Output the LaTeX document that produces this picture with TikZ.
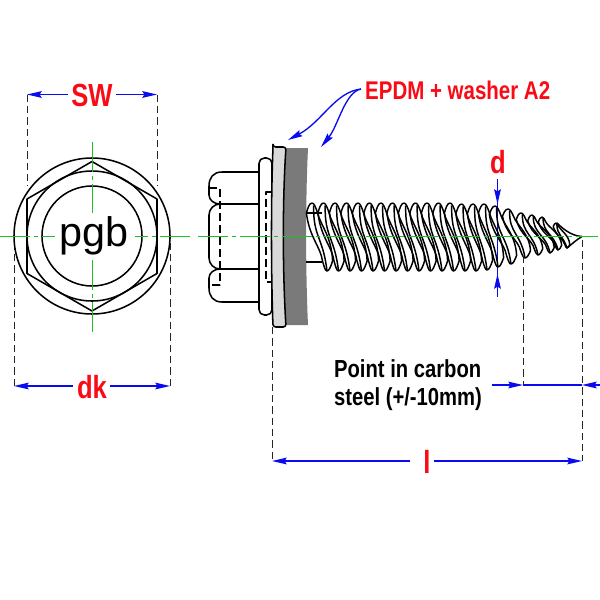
\documentclass[tikz,border=0pt]{standalone}
\usepackage{fontspec}
\setmainfont{Liberation Sans}
\usetikzlibrary{arrows.meta}
\definecolor{cl}{RGB}{30,190,40}
\definecolor{dimb}{RGB}{10,10,240}
\definecolor{redt}{RGB}{250,10,20}
\tikzset{
 x=0.75pt,y=-0.75pt,
 part/.style={draw=black,line width=1.15pt,line join=round},
 thr/.style={draw=black,line width=1.1pt,line join=round},
 centre/.style={draw=cl,line width=0.7pt,dash pattern=on 22.5pt off 3pt on 3pt off 3pt},
 ext/.style={draw=black!85,line width=0.75pt,dash pattern=on 5.5pt off 3pt},
 dim/.style={draw=dimb,line width=1pt},
 dimtip/.style={dim,-{Stealth[length=11pt,width=5pt,inset=1.5pt]}},
 redl/.style={inner sep=0pt,text=redt,font=\bfseries\fontsize{#1}{#1}\selectfont,xscale=0.8},
}
\begin{document}
\begin{tikzpicture}
\useasboundingbox (0,0) rectangle (600,600);
\coordinate (sl) at (27,94.5); \coordinate (sr) at (157,94.5);
\coordinate (dl) at (14,386); \coordinate (dr) at (170,386);
\coordinate (ll) at (272,461); \coordinate (lr) at (582,461);
\coordinate (pl) at (523,385); \coordinate (pr) at (582,385);
\coordinate (hub) at (361,89);
% front view
\draw[ext] (sl) -- (27,186) (sr) -- (157,186);
\draw[ext] (dl) -- (14,236) (dr) -- (170,236);
\draw[part] (92,236) circle[radius=78];
\draw[part] (92,236) circle[radius=65];
\draw[part] (92,236) circle[radius=50];
\draw[part] (92,161.5)--(157,199)--(157,273.5)--(92,311)--(27,273.5)--(27,199)--cycle;
\draw[centre] (0,236)--(55,236);
\draw[centre] (190,236)--(135,236);
\draw[centre] (92,142)--(92,213);
\draw[centre] (92,332)--(92,260);
\node[inner sep=0pt,font=\fontsize{31}{31}\selectfont] (pgb) at (94,238) {\strut pgb};
% side view: head
\draw[part] (259,172)--(222,172) .. controls (213,172) and (209,178) .. (209,186)--(209,195) .. controls (209,200) and (214,204) .. (220,204)
  .. controls (214,204) and (209,209) .. (209,215)--(209,258) .. controls (209,264) and (214,269) .. (220,269)
  .. controls (214,269) and (209,273) .. (209,278)--(209,288) .. controls (209,296) and (213,302) .. (222,302)--(259,302);
\draw[part] (259,204)--(220,204) (259,269)--(220,269);
\draw[part,dash pattern=on 6pt off 3pt] (209,188)--(220,188)--(220,285)--(209,285);
\draw[part,rounded corners=4] (259,158) rectangle (272,315);
\draw[part,dash pattern=on 6pt off 3pt] (271,192)--(266,192)--(266,282)--(271,282);
% washer + EPDM
\fill[black!52] (286,148)--(308,148) .. controls (305.5,200) and (305.5,270) .. (308,325)--(286,325) .. controls (282,270) and (282,200) .. (286,148)--cycle;
\draw[part,fill=black!15,rounded corners=2] (273,147)--(286,147) .. controls (282.5,200) and (282.5,270) .. (286,327)--(273,327) .. controls (271,270) and (271,200) .. (273,147)--cycle;
% shank
\draw[part] (306,213)--(322,213) (306,262)--(322,262);
\coordinate (dt) at (497.5,179); \coordinate (db) at (497.5,297);
\draw[dim] (dt)--(db);
% threads
\foreach \tx/\ty/\bx/\by in {
 312/203/327/271,323.5/203/338.5/271,335/203/350/271,346.5/203/361.5/271,358/203/373/271,369.5/203/384.5/271,
 381/203/396/271,392.5/203/407.5/271,404/203/419/271,415.5/203/430.5/271,427/203/442/271,438.5/203/453.5/271,
 450/203/465/271,461.5/204/476/271,473/204/487/270,484/204/498/267,
 495/206/511/264,508/209/525/258,521/213/538/255,532/215/550/253,542/217/558/250,556/223/567/248}{
 \pgfmathsetmacro{\dp}{10*(\by-\ty)/68}
 \pgfmathsetmacro{\wd}{5.6*min(1,(\by-\ty)/50)}
 \pgfmathsetmacro{\ha}{(\by-\ty)*0.36}
 \draw[thr] (\tx,\ty) .. controls (\tx-\wd*0.5,\ty) and (\tx-\wd*0.8,\ty+\dp*0.6) .. (\tx-\wd,\ty+\dp)
   .. controls (\tx-\wd+3,\ty+\dp+\ha) and (\bx-\wd-1,\by-\dp-\ha*0.6) .. (\bx-\wd*0.8,\by-\dp)
   .. controls (\bx-\wd*0.5,\by-\dp*0.4) and (\bx-\wd*0.3,\by) .. (\bx,\by)
   .. controls (\bx+\wd*0.4,\by) and (\bx+\wd*0.7,\by-\dp*0.5) .. (\bx+\wd,\by-\dp)
   .. controls (\bx+\wd-1,\by-\dp-\ha) and (\tx+\wd+3,\ty+\dp+\ha*0.5) .. (\tx+\wd,\ty+\dp)
   .. controls (\tx+\wd*0.7,\ty+\dp*0.5) and (\tx+\wd*0.4,\ty) .. (\tx,\ty);
 \draw[thr] (\tx+\wd*0.3,\ty+\dp*0.25) .. controls (\tx+1,\ty+\dp+\ha) and (\bx-4,\by-\dp-\ha) .. (\bx,\by);
}
\draw[thr] (567,248) .. controls (572,244) and (576,240) .. (582,236.5) .. controls (574,236) and (566,232) .. (557,223);
% centre line of the side view
\draw[centre] (198,236)--(598,236);
% extensions
\draw[ext] (272,327)--(ll);
\draw[ext] (582,240)--(lr);
\draw[ext] (523,256)--(pl);
% leaders
\draw[dimtip] (hub) .. controls (335,92) and (322,122) .. (288,140);
\draw[dimtip] (hub) .. controls (345,92) and (338,126) .. (321,147);
% dimensions
\node[redl=24] (sw) at (92,95) {SW};
\draw[dimtip] (68,94.5)--(sl);
\draw[dimtip] (116,94.5)--(sr);
\node[redl=24] (dk) at (92,387) {dk};
\draw[dimtip] (73,386)--(dl);
\draw[dimtip] (110,386)--(dr);
\node[redl=24] (dd) at (498,162) {d};
\draw[dimtip] (dt)--(497.5,204);
\draw[dimtip] (db)--(497.5,274);
\node[redl=24] (ell) at (427,462) {l};
\draw[dimtip] (410,461)--(ll);
\draw[dimtip] (434,461)--(lr);
\draw[dimtip] (492,385)--(pl);
\draw[dim] (pl)--(pr);
\draw[dimtip] (600,385)--(pr);
% labels
\node[redl=19.2,anchor=west] (epdm) at (365,90) {EPDM + washer A2};
\node[inner sep=0pt,font=\bfseries\fontsize{18.5}{21}\selectfont,xscale=0.82,align=left] (pt) at (408,385) {Point in carbon\\steel (+/-10mm)};
\end{tikzpicture}
\end{document}
